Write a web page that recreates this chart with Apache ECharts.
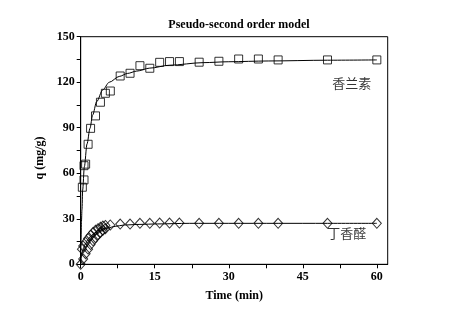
<!DOCTYPE html>
<html><head><meta charset="utf-8">
<script src="https://cdn.jsdelivr.net/npm/echarts@6/dist/echarts.min.js"></script>
<style>html,body{margin:0;padding:0;background:#fff}#c{width:449px;height:317px}</style>
</head><body><div id="c"></div><script>
// 香兰素 (vanillin) measured points
const vanTime = [0.33, 0.67, 0.67, 1, 1.5, 2, 3, 4, 5, 6, 8, 10, 12, 14, 16, 18, 20, 24, 28, 32, 36, 40, 50, 60];
const vanQ    = [50.8, 55.6, 65.0, 66.0, 79.1, 89.6, 97.8, 106.8, 112.7, 114.2, 124.1, 125.9, 130.9, 129.2, 133.1, 133.6, 133.6, 133.2, 133.8, 135.3, 135.3, 134.7, 134.7, 134.7];
// 香兰素 fitted curve
const vanFitTime = [0, 0.05, 0.15, 0.26, 0.4, 0.74, 1.28, 1.88, 2.42, 3.24, 4.45, 5.8, 7.8, 9.5, 11.3, 14, 18, 24.8, 30, 38, 50, 60];
const vanFitQ    = [8, 16, 28, 36, 49, 64.3, 79.3, 89.6, 98.4, 107.2, 114.9, 120.0, 123.8, 125.8, 127.3, 129.3, 131.2, 132.9, 133.5, 134.0, 134.5, 134.7];
// 丁香醛 (syringaldehyde) measured points
const syrTime = [0, 0.5, 1, 1.5, 2, 2.5, 3, 3.5, 4, 4.5, 5,
                 0.25, 0.5, 1, 1.5, 2, 2.5, 3, 3.5, 4, 4.5, 5,
                 6, 8, 10, 12, 14, 16, 18, 20, 24, 28, 32, 36, 40, 50, 60];
const syrQ    = [0, 3.5, 7, 10, 13, 15.5, 17.5, 19.5, 21, 22.5, 23.5,
                 10, 12, 14.5, 17, 19, 21, 22.5, 23.5, 24.5, 25.2, 25.6,
                 25.9, 26.5, 26.5, 27, 27, 27.2, 27.2, 27.2, 27, 27, 27, 27, 27, 27, 27];
// 丁香醛 fitted curve
const syrFitTime = [0, 0.1, 0.3, 0.6, 1, 1.5, 2, 2.7, 3.5, 4.5, 5.4, 7, 8.8, 12, 15.5, 22, 30, 40, 50, 60];
const syrFitQ    = [0, 4, 8, 11, 13.8, 16.5, 18.5, 20.4, 22, 23.2, 23.9, 25, 25.9, 26.3, 26.6, 27, 27, 27, 27, 27];
// annotation labels
const labelNames = ['香兰素', '丁香醛'];
const labelTime  = [54.9, 53.9];
const labelQ     = [119.7, 20.4];
// axis ticks
const xTickLabels = [0, 15, 30, 45, 60];
const xTicks = [0, 7.5, 15, 22.5, 30, 37.5, 45, 52.5, 60];
const yTickLabels = [0, 30, 60, 90, 120, 150];
const yTicks = [0, 15, 30, 45, 60, 75, 90, 105, 120, 135, 150];

const zip = (a, b) => a.map((v, i) => [v, b[i]]);
const serif = '"Liberation Serif", "Times New Roman", serif';

const chart = echarts.init(document.getElementById('c'), null, {renderer: 'canvas'});
chart.setOption({
  animation: false,
  backgroundColor: '#fff',
  title: {
    text: 'Pseudo-second order model',
    left: 234, top: 14, textAlign: 'center',
    textStyle: {fontFamily: serif, fontWeight: 'bold', fontSize: 12, color: '#000'}
  },
  grid: {left: 80.7, right: 61.3, top: 36.7, bottom: 52.7, show: true, borderColor: '#000', borderWidth: 1, backgroundColor: 'transparent'},
  xAxis: {
    type: 'value', min: 0, max: 62.2,
    name: 'Time (min)', nameLocation: 'middle', nameGap: 26,
    nameTextStyle: {fontFamily: serif, fontWeight: 'bold', fontSize: 12, color: '#000'},
    axisLine: {lineStyle: {color: '#000', width: 1}},
    axisTick: {show: true, length: 4, customValues: xTicks, lineStyle: {color: '#000'}},
    axisLabel: {customValues: xTickLabels, fontFamily: serif, fontWeight: 'bold', fontSize: 12, color: '#000', margin: 7},
    splitLine: {show: false}
  },
  yAxis: {
    type: 'value', min: 0, max: 150,
    name: 'q (mg/g)', nameLocation: 'middle', nameGap: 27, nameRotate: 90,
    nameTextStyle: {fontFamily: serif, fontWeight: 'bold', fontSize: 12, color: '#000', padding: [0, 0, 0, -15]},
    axisLine: {lineStyle: {color: '#000', width: 1}},
    axisTick: {show: true, length: 4, customValues: yTicks, lineStyle: {color: '#000'}},
    axisLabel: {customValues: yTickLabels, fontFamily: serif, fontWeight: 'bold', fontSize: 12, color: '#000', margin: 6},
    splitLine: {show: false}
  },
  series: [
    {type: 'line', data: zip(vanFitTime, vanFitQ), showSymbol: false, smooth: 0.3, smoothMonotone: 'x',
     lineStyle: {color: '#000', width: 1}, z: 2},
    {type: 'scatter', data: zip(vanTime, vanQ), symbol: 'rect', symbolSize: 8,
     itemStyle: {color: 'transparent', borderColor: '#000', borderWidth: 1}, z: 3},
    {type: 'line', data: zip(syrFitTime, syrFitQ), showSymbol: false, smooth: 0.3, smoothMonotone: 'x',
     lineStyle: {color: '#000', width: 1}, z: 2},
    {type: 'scatter', data: zip(syrTime, syrQ), symbol: 'diamond', symbolSize: [9, 10],
     itemStyle: {color: 'transparent', borderColor: '#000', borderWidth: 1}, z: 3},
    {type: 'scatter', symbolSize: 0, silent: true,
     data: labelNames.map((n, i) => ({name: n, value: [labelTime[i], labelQ[i]]})),
     label: {show: true, position: 'inside', formatter: '{b}', fontFamily: '"Noto Sans CJK SC", sans-serif', fontSize: 13, color: '#000'}}
  ]
});
</script></body></html>
